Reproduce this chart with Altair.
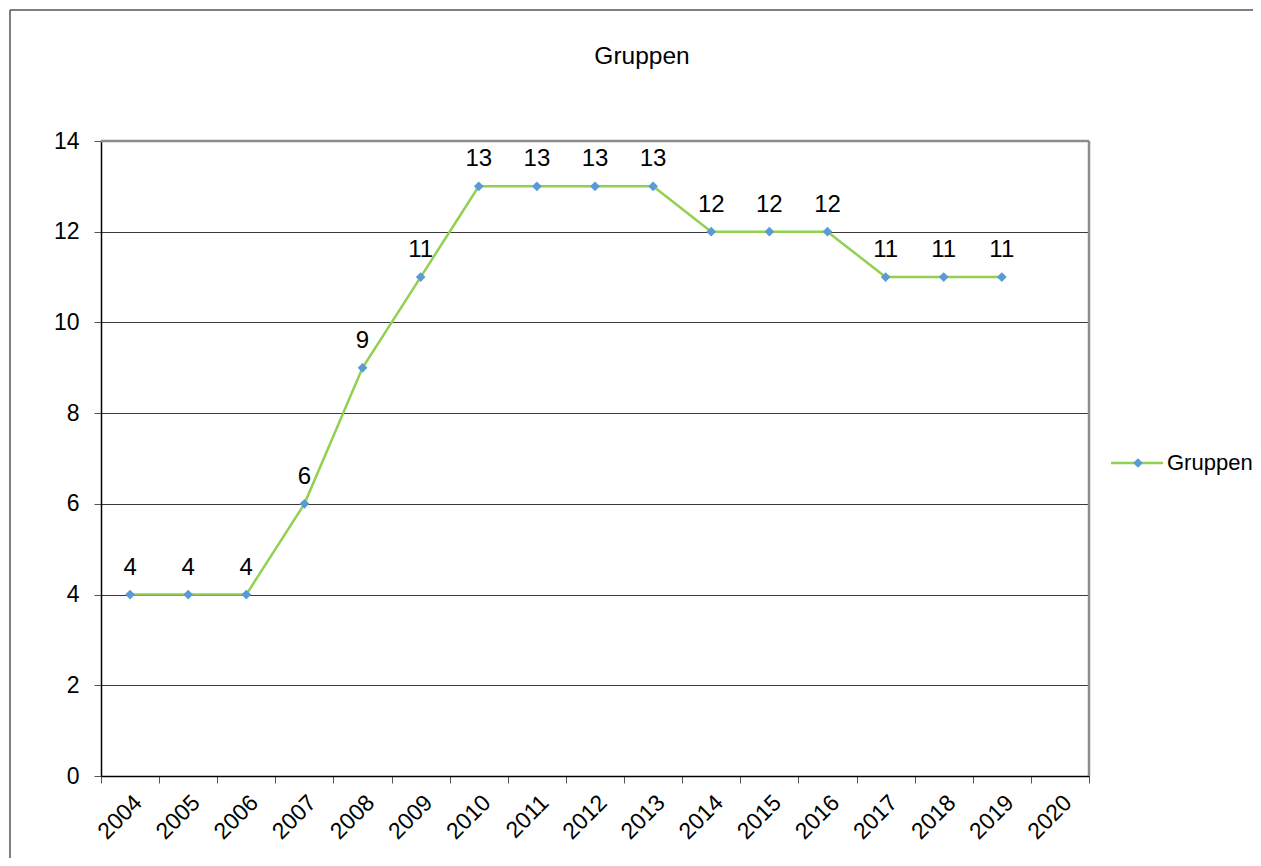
import altair as alt
import pandas as pd

years = [str(y) for y in range(2004, 2021)]
values = [4, 4, 4, 6, 9, 11, 13, 13, 13, 13, 12, 12, 12, 11, 11, 11, None]
series_name = "Gruppen"
title_text = "Gruppen"
y_ticks = [0, 2, 4, 6, 8, 10, 12, 14]

W, H = 988, 635
FONT = "Liberation Sans"
LINE_C = "#92D050"
PT_C = "#5B9BD5"

df = pd.DataFrame({"year": years, "value": values})
dfv = df.dropna()

xscale = alt.Scale(domain=years, paddingInner=0, paddingOuter=0)
yscale = alt.Scale(domain=[0, 14], nice=False)

xax = alt.Axis(title=None, labelAngle=-45, labelFontSize=23, labelFont=FONT, labelColor="#000",
               tickBand="extent", ticks=True, tickSize=7, tickColor="#555", domainColor="#000",
               domainWidth=1.5, labelPadding=8, grid=False)
yax = alt.Axis(title=None, values=y_ticks, labelFontSize=23, labelFont=FONT, labelColor="#000",
               tickSize=7, tickColor="#555", domainColor="#000", domainWidth=1.5, labelPadding=15,
               grid=True, gridColor="#3a3a3a", gridWidth=1)

base = alt.Chart(dfv)

line = base.mark_line(color=LINE_C, strokeWidth=2.5).encode(
    x=alt.X("year:N", scale=xscale, axis=xax, sort=years),
    y=alt.Y("value:Q", scale=yscale, axis=yax),
)
pts = base.mark_point(shape="diamond", filled=True, color=PT_C, size=95, opacity=1).encode(
    x=alt.X("year:N", scale=xscale, sort=years),
    y=alt.Y("value:Q", scale=yscale),
)
labels = base.mark_text(font=FONT, fontSize=24, color="#000", baseline="alphabetic", dy=-20).encode(
    x=alt.X("year:N", scale=xscale, sort=years),
    y=alt.Y("value:Q", scale=yscale),
    text=alt.Text("value:Q", format="d"),
)

# plot border (top and right, gray)
top_border = alt.Chart(pd.DataFrame({"v": [y_ticks[-1]]})).mark_rule(color="#8c8c8c", strokeWidth=2.5).encode(
    y=alt.Y("v:Q", scale=yscale), x=alt.value(0), x2=alt.value(W))
right_border = alt.Chart(pd.DataFrame({"v": [y_ticks[-1]]})).mark_rule(color="#8c8c8c", strokeWidth=2.5).encode(
    x=alt.value(W), y=alt.value(0), y2=alt.value(H))

# outer chart frame
frame_top = alt.Chart(pd.DataFrame({"a": [0]})).mark_rule(color="#555", strokeWidth=1.5).encode(
    x=alt.value(-91), x2=alt.value(1300), y=alt.value(-131))
frame_left = alt.Chart(pd.DataFrame({"a": [0]})).mark_rule(color="#555", strokeWidth=1.5).encode(
    x=alt.value(-91), y=alt.value(-131), y2=alt.value(900))

title = alt.Chart(pd.DataFrame({"t": [title_text]})).mark_text(
    font=FONT, fontSize=24.5, color="#000", baseline="middle", align="center").encode(
    x=alt.value(541), y=alt.value(-84), text="t:N")

leg = pd.DataFrame({"name": [series_name]})
leg_line = alt.Chart(leg).mark_rule(color=LINE_C, strokeWidth=2.5).encode(
    x=alt.value(1010), x2=alt.value(1062), y=alt.value(322))
leg_pt = alt.Chart(leg).mark_point(shape="diamond", filled=True, color=PT_C, size=95, opacity=1).encode(
    x=alt.value(1037), y=alt.value(322))
leg_txt = alt.Chart(leg).mark_text(font=FONT, fontSize=22, color="#000", align="left", baseline="middle").encode(
    x=alt.value(1066), y=alt.value(322), text="name:N")

chart = alt.layer(
    frame_top, frame_left, line, pts, labels, top_border, right_border, title, leg_line, leg_pt, leg_txt
).properties(
    width=W, height=H,
    autosize=alt.AutoSizeParams(type="none"),
    padding={"left": 93, "top": 133, "right": 164, "bottom": 82},
).configure_view(stroke=None).configure(background="#ffffff")

chart.save("out.html", embed_options={"renderer": "svg", "actions": False})
